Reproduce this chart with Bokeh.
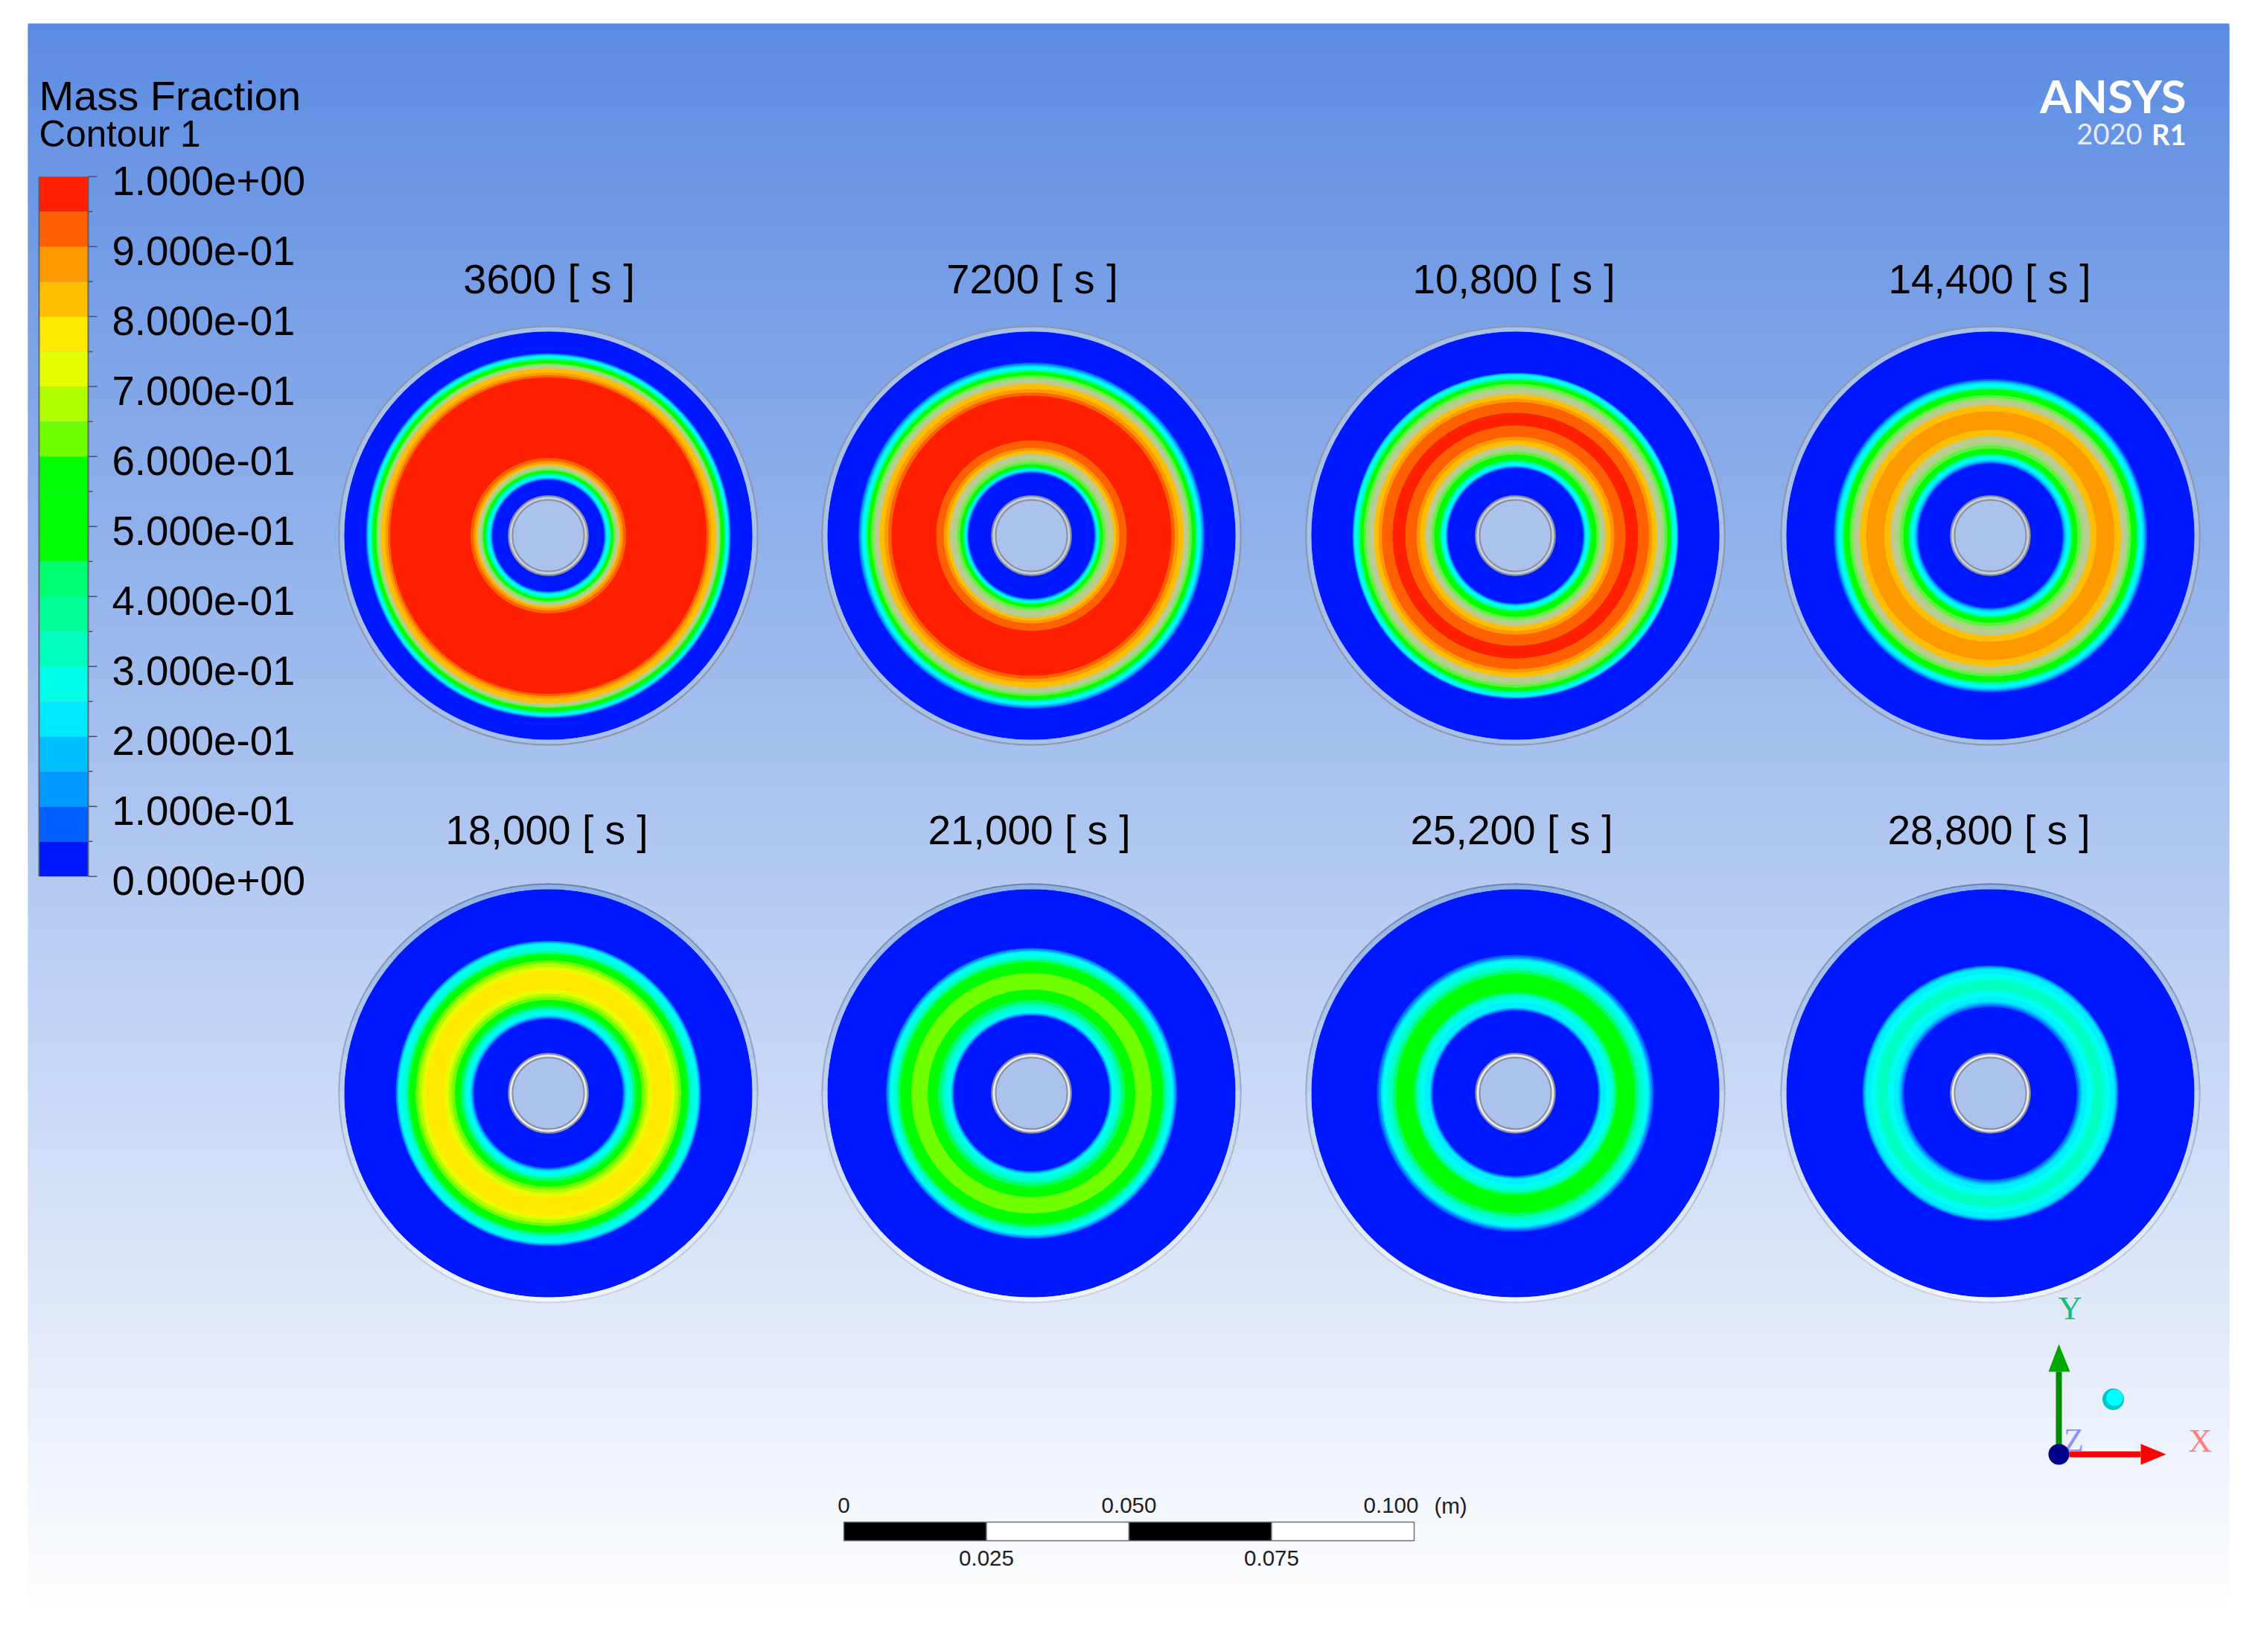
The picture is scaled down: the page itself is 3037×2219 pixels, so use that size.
from bokeh.plotting import figure
from bokeh.models import Range1d, ColumnDataSource
from bokeh.core.properties import value
from bokeh.embed import file_html
from bokeh.resources import INLINE
import numpy as np

# ---------- values ----------
titles = ["3600 [ s ]", "7200 [ s ]", "10,800 [ s ]", "14,400 [ s ]",
          "18,000 [ s ]", "21,000 [ s ]", "25,200 [ s ]", "28,800 [ s ]"]

# radial mass-fraction profiles: radius in mm, mass fraction
r_3600 = [9.79, 10.31, 10.97, 11.36, 12.40, 12.66, 13.06, 13.58, 13.97, 14.23, 27.42, 27.68, 28.07, 28.59, 29.37, 30.16, 30.81, 31.46, 31.98]
f_3600 = [.05, .25, .45, .6, .8, .85, .9, .95, .96, 1.0, 1.0, .95, .9, .85, .8, .6, .45, .25, .05]
r_7200 = [10.97, 11.49, 12.01, 12.53, 14.36, 14.88, 15.40, 16.71, 17.10, 24.15, 24.54, 25.07, 25.72, 26.63, 28.07, 28.72, 29.50, 30.29]
f_7200 = [.05, .25, .45, .6, .8, .85, .9, .95, 1.0, 1.0, .95, .9, .85, .8, .6, .45, .25, .05]
r_10800 = [11.88, 12.40, 13.20, 14.23, 15.80, 16.71, 17.36, 19.32, 19.58, 21.28, 21.54, 23.37, 24.02, 24.80, 26.63, 27.20, 28.07, 28.59]
f_10800 = [.05, .25, .45, .6, .8, .85, .9, .95, .97, .97, .95, .9, .85, .8, .6, .45, .25, .05]
r_14400 = [12.66, 13.45, 14.36, 15.27, 17.49, 18.54, 18.67, 21.67, 21.80, 22.85, 24.67, 25.59, 26.50, 27.42]
f_14400 = [.05, .25, .45, .6, .8, .85, .875, .875, .85, .8, .6, .45, .25, .05]
r_18000 = [13.05, 13.84, 14.88, 15.40, 16.32, 16.97, 17.49, 18.15, 18.41, 21.28, 21.54, 22.19, 22.72, 23.24, 24.41, 25.07, 26.11, 26.76]
f_18000 = [.05, .25, .40, .45, .6, .65, .7, .75, .77, .77, .75, .7, .65, .6, .45, .35, .25, .05]
r_21000 = [13.58, 14.23, 15.40, 16.32, 18.15, 18.28, 20.89, 21.02, 22.98, 23.89, 24.67, 25.46]
f_21000 = [.05, .25, .38, .45, .6, .62, .62, .6, .45, .35, .25, .05]
r_25200 = [14.49, 15.01, 15.93, 16.97, 17.75, 17.89, 20.76, 20.89, 22.19, 23.11, 23.63, 24.28]
f_25200 = [.05, .2, .25, .35, .45, .5, .5, .45, .35, .25, .15, .05]
r_28800 = [15.14, 16.06, 16.97, 17.89, 18.02, 19.84, 19.97, 20.89, 21.80, 22.45]
f_28800 = [.05, .2, .25, .3, .36, .36, .3, .25, .2, .05]

disk_outer_mm = 35.8
hole_mm = 6.92
hole_inner_mm = 6.27
rim_mm = 36.7

legend_levels = [1.0, .9, .8, .7, .6, .5, .4, .3, .2, .1, 0.0]
legend_labels = ["1.000e+00", "9.000e-01", "8.000e-01", "7.000e-01", "6.000e-01", "5.000e-01",
                 "4.000e-01", "3.000e-01", "2.000e-01", "1.000e-01", "0.000e+00"]
band_colors = ["#0018ff", "#0060ff", "#0099ff", "#00bfff", "#00eaff", "#00ffe6", "#00ffbf", "#00ff99",
               "#00ff70", "#00ff00", "#00ff00", "#00ff00", "#70ff00", "#b0ff00", "#e6ff00", "#ffea00",
               "#ffbf00", "#ff9900", "#ff6000", "#ff2000"]
KHAKI = "#bccb92"
HOLE = "#abc3ec"
disk_colors = band_colors[:3] + ["#00d0ff", "#00f0ff", "#00fff0", "#00ffe0", "#00ffc0"] + band_colors[8:]
top_colors = disk_colors[:12] + ["#60f040", "#9cdc78", KHAKI, KHAKI] + disk_colors[16:]

scale_values = [0, .025, .05, .075, .1]

# ---------- layout (page pixels) ----------
W, H = 3021, 2203
MM = 7.66
col_x = [736, 1385, 2035, 2673]
row_y = [719, 1468]
title_x = [737, 1386, 2033, 2672, 734, 1382, 2030, 2671]
title_size = [56, 56, 55, 55, 55, 55, 55, 55]
title_y = [394, 1134]
SANS = value("Liberation Sans")
SERIF = value("Liberation Serif")
LOGO = value("Lato")
BASE = 0.355   # em offset between the requested baseline and where it lands

p = figure(width=W, height=H, x_range=Range1d(0, W), y_range=Range1d(H, 0),
           x_axis_location=None, y_axis_location=None, toolbar_location=None,
           output_backend="svg", min_border=0, background_fill_color="white",
           border_fill_color="white", outline_line_color=None)
p.grid.visible = False

# background gradient (strips overlap so no seams show)
ys = np.arange(31, 2175, 4)
t = np.clip((ys - 31) / 2139, 0, 1)
bg = ["#%02x%02x%02x" % (round(92 + 163 * a), round(140 + 115 * a), round(226 + 29 * a)) for a in t]
p.quad(left=37, right=2994, top=ys, bottom=np.minimum(ys + 7, 2178), fill_color=bg, line_color=None)


def text(x, y, s, size, font=SANS, color="#000000", align="left", style="normal", alpha=1.0):
    p.text(x=[x], y=[y - BASE * size], text=[s], text_font=font, text_font_size=f"{size}px", text_color=color,
           text_align=align, text_baseline="alphabetic", text_font_style=style, text_alpha=alpha)


# disks
profiles = [(r_3600, f_3600), (r_7200, f_7200), (r_10800, f_10800), (r_14400, f_14400),
            (r_18000, f_18000), (r_21000, f_21000), (r_25200, f_25200), (r_28800, f_28800)]
for i, (rk, fk) in enumerate(profiles):
    row = i // 4
    cx, cy = col_x[i % 4], row_y[row]
    colors = top_colors if row == 0 else disk_colors
    rr = np.arange(hole_mm, disk_outer_mm, 0.5 / MM)
    mf = np.interp(rr, rk, fk, left=0.0, right=0.0)
    idx = np.clip((mf / 0.05 + 1e-9).astype(int), 0, 19)
    # contour bands, drawn from the outermost inwards
    outers, fills = [disk_outer_mm], [colors[idx[-1]]]
    for k in range(len(rr) - 2, -1, -1):
        if idx[k] != idx[k + 1]:
            outers.append(rr[k + 1])
            fills.append(colors[idx[k]])
    src = ColumnDataSource(dict(x=[cx] * len(outers), y=[cy] * len(outers),
                                o=[o * MM for o in outers], c=fills,
                                n=[hole_mm * MM] * len(outers)))
    p.annulus(x="x", y="y", inner_radius="n", outer_radius="o", fill_color="c", line_color=None, source=src)

    # hole
    p.circle(x=cx, y=cy, radius=hole_mm * MM, fill_color=HOLE, line_color="#8c8f98", line_width=2.5)
    ring_fill = "#c4cfe6" if row == 0 else "#e4eaf6"
    p.annulus(x=cx, y=cy, inner_radius=hole_inner_mm * MM, outer_radius=hole_mm * MM - 1,
              fill_color=ring_fill, line_color=None)
    p.circle(x=cx, y=cy, radius=hole_inner_mm * MM, fill_color=None, line_color="#8c8f98", line_width=2)

    # rim
    if row == 0:
        p.annulus(x=cx, y=cy, inner_radius=disk_outer_mm * MM, outer_radius=rim_mm * MM,
                  fill_color="#a8c0ec", line_color=None)
        p.circle(x=cx, y=cy, radius=rim_mm * MM, fill_color=None, line_color="#8c96a6", line_width=2)
    else:
        n = 36
        for k in range(n):
            a0 = 2 * np.pi * k / n
            w = 0.5 + 0.5 * np.sin(a0 + np.pi / n)     # the y axis is flipped: 1 at the top edge
            rgb = np.array([242, 246, 253]) * (1 - w) + np.array([143, 176, 234]) * w
            line = np.array([205, 212, 225]) * (1 - w) + np.array([112, 132, 170]) * w
            col = "#%02x%02x%02x" % tuple(int(v) for v in rgb)
            lc = "#%02x%02x%02x" % tuple(int(v) for v in line)
            p.annular_wedge(x=cx, y=cy, inner_radius=disk_outer_mm * MM, outer_radius=rim_mm * MM,
                            start_angle=a0 - 0.01, end_angle=a0 + 2 * np.pi / n + 0.01,
                            fill_color=col, line_color=None)
            p.annular_wedge(x=cx, y=cy, inner_radius=rim_mm * MM - 1, outer_radius=rim_mm * MM + 1,
                            start_angle=a0 - 0.01, end_angle=a0 + 2 * np.pi / n + 0.01,
                            fill_color=lc, line_color=None)
    text(title_x[i], title_y[row], titles[i], title_size[i], align="center")

# legend
L0, L1, LT, LB = 52, 118, 236.7, 1176.7
ly = lambda v: LB - (LB - LT) * v
bands = np.arange(20) * 0.05
p.quad(left=L0, right=L1, top=[ly(v + 0.05) for v in bands], bottom=[ly(v) for v in bands],
       fill_color=band_colors, line_color=None)
p.segment(x0=[L0, L1], y0=[LT, LT], x1=[L0, L1], y1=[LB, LB], line_color="#50585f", line_width=2, line_alpha=0.8)
tick_v = np.arange(21) * 0.05
tick_end = [130 if k % 2 == 0 else 124 for k in range(21)]
p.segment(x0=[L1] * 21, y0=[ly(v) for v in tick_v], x1=tick_end, y1=[ly(v) for v in tick_v],
          line_color="#4a5560", line_width=1.6)
for v, s in zip(legend_levels, legend_labels):
    text(150, ly(v) + 25.5, s, 54.6)
text(52, 148, "Mass Fraction", 56)
text(52, 197, "Contour 1", 49.4)

# logo
text(2936, 150, "ANSYS", 62, font=LOGO, color="#ffffff", align="right", style="bold")
text(2877, 193, "2020", 38, font=LOGO, color="#e6edfa", align="right")
text(2936, 193, "R1", 38, font=LOGO, color="#ffffff", align="right", style="bold")

# scale bar
SX, SY0, SY1 = 1133, 2044, 2069
seg = np.array(scale_values) * 1000 * MM + SX
p.quad(left=seg[:-1], right=seg[1:], top=SY0, bottom=SY1, fill_color=["#000000", "#ffffff", "#000000", "#ffffff"],
       line_color="#707070", line_width=1.5)
for s, x, y in [("0", seg[0], 2032), ("0.050", seg[2], 2032), ("0.100", 1868, 2032),
                ("0.025", seg[1], 2103), ("0.075", seg[3], 2103)]:
    text(x, y, s, 29.5, align="center", color="#202020")
text(1948, 2032, "(m)", 29.5, align="center", color="#202020")

# triad
p.quad(left=2761, right=2769, top=1842, bottom=1947, fill_color="#008c00", line_color=None)
p.patch(x=[2765, 2751, 2780], y=[1805, 1842, 1842], fill_color="#00a800", line_color=None)
p.quad(left=2779, right=2875, top=1949, bottom=1957, fill_color="#ff0000", line_color=None)
p.patch(x=[2909, 2875, 2875], y=[1953, 1939, 1967], fill_color="#ff0000", line_color=None)
p.circle(x=2838, y=1879, radius=14.5, fill_color="#00c8c8", line_color=None)
p.circle(x=2840, y=1877, radius=11, fill_color="#00ffff", line_color=None)
text(2780, 1773, "Y", 44, font=SERIF, color="#10c070", align="center")
text(2955, 1951, "X", 44, font=SERIF, color="#ff8080", align="center")
text(2785, 1950, "Z", 44, font=SERIF, color="#9090ff", align="center")
p.circle(x=2765, y=1953, radius=14, fill_color="#00008c", line_color=None)

open("out.html", "w").write(file_html(p, INLINE))
